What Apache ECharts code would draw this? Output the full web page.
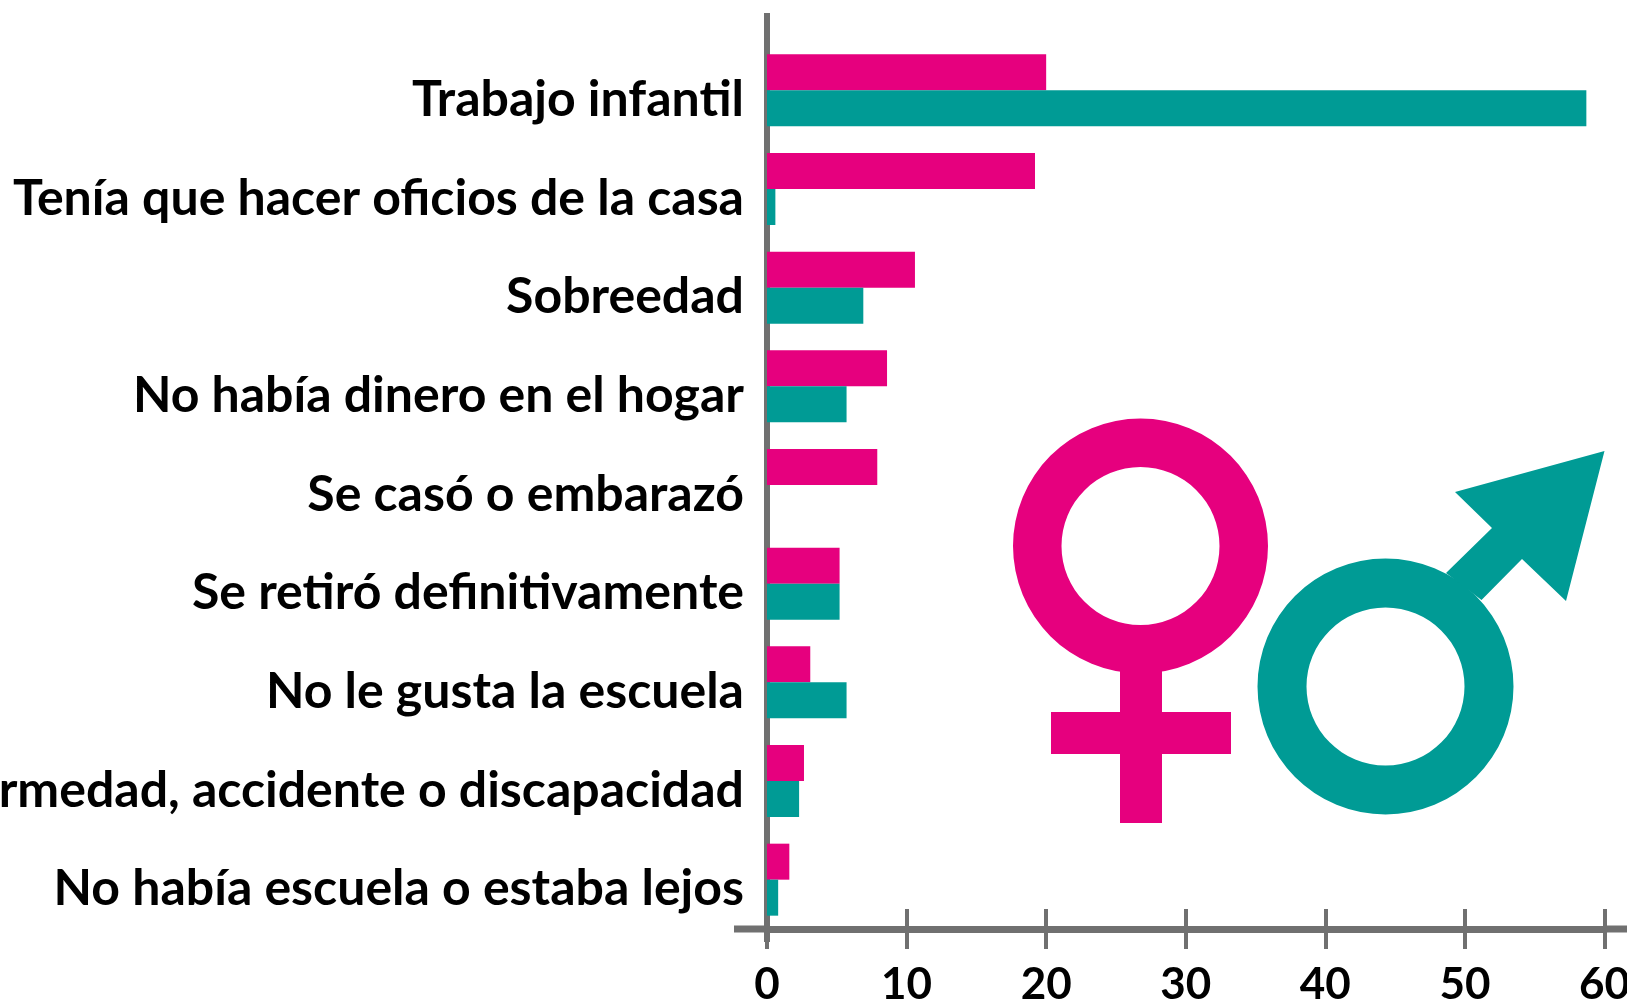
<!DOCTYPE html>
<html>
<head>
<meta charset="utf-8">
<script src="https://cdn.jsdelivr.net/npm/echarts@6/dist/echarts.min.js"></script>
<style>
html, body { margin: 0; padding: 0; background: #fff; }
#chart { width: 1627px; height: 1000px; }
</style>
</head>
<body>
<div id="chart"></div>
<script>
const categorias = [
    'Trabajo infantil',
    'Tenía que hacer oficios de la casa',
    'Sobreedad',
    'No había dinero en el hogar',
    'Se casó o embarazó',
    'Se retiró definitivamente',
    'No le gusta la escuela',
    'Enfermedad, accidente o discapacidad',
    'No había escuela o estaba lejos'
]
const mujeres = [20, 19.2, 10.6, 8.6, 7.9, 5.2, 3.1, 2.65, 1.6]
const hombres = [58.7, 0.6, 6.9, 5.7, 0, 5.2, 5.7, 2.3, 0.8]

const rosa = '#e6007e'
const verde = '#009b95'
const gris = '#707070'

const myChart = echarts.init(document.getElementById('chart'), null, { renderer: 'canvas' })

let option = {
    animation: false,
    backgroundColor: '#fff',
    textStyle: { fontFamily: 'Lato' },
    grid: { left: 767, right: 22.5, top: 41, bottom: 71, outerBoundsMode: 'none' },
    xAxis: [
        {
            type: 'value', min: 0, max: 60, interval: 10,
            splitLine: { show: false },
            axisLine: { show: true, lineStyle: { color: gris, width: 7 } },
            axisTick: { show: true, length: 20, lineStyle: { color: gris, width: 4 } },
            axisLabel: { color: '#000', fontSize: 44, fontWeight: 'bold', margin: 34, fontFamily: 'Lato' }
        },
        {
            // mitad superior de las marcas
            type: 'value', min: 0, max: 60, interval: 10, position: 'bottom',
            splitLine: { show: false },
            axisLine: { show: false },
            axisTick: { show: true, inside: true, length: 20, lineStyle: { color: gris, width: 4 } },
            axisLabel: { show: false }
        }
    ],
    yAxis: {
        type: 'category', inverse: true, data: categorias,
        axisLine: { show: true, onZero: false, lineStyle: { color: gris, width: 6 } },
        axisTick: { show: false },
        axisLabel: {
            color: '#000', fontSize: 50, fontWeight: 'bold', margin: 23,
            fontFamily: 'Lato', verticalAlign: 'top', lineHeight: 19
        }
    },
    series: [
        { name: 'Mujeres', type: 'bar', data: mujeres, barWidth: 36, barGap: 0, itemStyle: { color: rosa } },
        { name: 'Hombres', type: 'bar', data: hombres, barWidth: 36, barGap: 0, itemStyle: { color: verde } }
    ],
    graphic: [
        // prolongaciones de los ejes
        { type: 'rect', shape: { x: 764, y: 13, width: 6, height: 30 }, style: { fill: gris } },
        { type: 'rect', shape: { x: 764, y: 925, width: 6, height: 17 }, style: { fill: gris } },
        { type: 'rect', shape: { x: 734, y: 925.5, width: 33, height: 7 }, style: { fill: gris } },
        { type: 'rect', shape: { x: 1604, y: 925.5, width: 23, height: 7 }, style: { fill: gris } },
        // símbolo femenino
        { type: 'ring', shape: { cx: 1140.5, cy: 546, r: 127.5, r0: 79 }, style: { fill: rosa } },
        { type: 'rect', shape: { x: 1120, y: 665, width: 42, height: 158 }, style: { fill: rosa } },
        { type: 'rect', shape: { x: 1051, y: 712, width: 180, height: 42 }, style: { fill: rosa } },
        // símbolo masculino
        { type: 'ring', shape: { cx: 1385.5, cy: 686.5, r: 128, r0: 79 }, style: { fill: verde } },
        {
            type: 'polygon',
            shape: { points: [[1446, 573], [1492, 528], [1455, 492], [1604.5, 451], [1566, 601], [1522, 559], [1481.5, 600]] },
            style: { fill: verde }
        }
    ]
}
myChart.setOption(option)
</script>
</body>
</html>
